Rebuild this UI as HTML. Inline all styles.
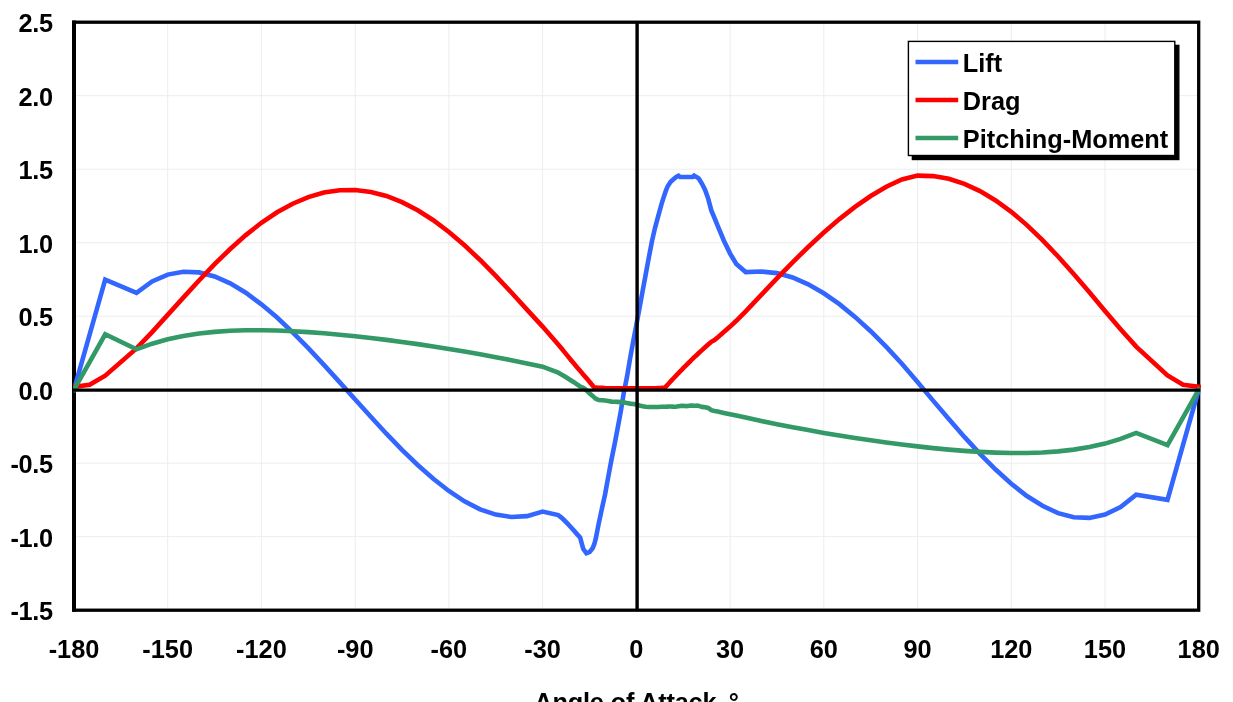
<!DOCTYPE html>
<html lang="en">
<head>
<meta charset="utf-8">
<title>Lift, Drag and Pitching-Moment vs Angle of Attack</title>
<style>
html,body{margin:0;padding:0;background:#fff;}
body{width:1233px;height:702px;overflow:hidden;}
svg{display:block;}
text{font-family:"Liberation Sans", Arial, Helvetica, sans-serif;font-weight:bold;font-size:25.33px;fill:#000;}
.grid line{stroke:#ededed;stroke-width:1;}
.curve{fill:none;stroke-width:4.6;stroke-linejoin:miter;stroke-miterlimit:3;stroke-linecap:square;}
</style>
</head>
<body>
<svg width="1233" height="702" viewBox="0 0 1233 702">
<rect x="0" y="0" width="1233" height="702" fill="#ffffff"/>

<g class="grid">
<line x1="167.7" y1="22.2" x2="167.7" y2="610.2"/>
<line x1="261.4" y1="22.2" x2="261.4" y2="610.2"/>
<line x1="355.2" y1="22.2" x2="355.2" y2="610.2"/>
<line x1="448.9" y1="22.2" x2="448.9" y2="610.2"/>
<line x1="542.6" y1="22.2" x2="542.6" y2="610.2"/>
<line x1="730.1" y1="22.2" x2="730.1" y2="610.2"/>
<line x1="823.8" y1="22.2" x2="823.8" y2="610.2"/>
<line x1="917.5" y1="22.2" x2="917.5" y2="610.2"/>
<line x1="1011.3" y1="22.2" x2="1011.3" y2="610.2"/>
<line x1="1105.0" y1="22.2" x2="1105.0" y2="610.2"/>
<line x1="74.0" y1="95.7" x2="1198.7" y2="95.7"/>
<line x1="74.0" y1="169.2" x2="1198.7" y2="169.2"/>
<line x1="74.0" y1="242.7" x2="1198.7" y2="242.7"/>
<line x1="74.0" y1="316.2" x2="1198.7" y2="316.2"/>
<line x1="74.0" y1="463.2" x2="1198.7" y2="463.2"/>
<line x1="74.0" y1="536.7" x2="1198.7" y2="536.7"/>
</g>
<rect x="74.0" y="22.2" width="1124.7" height="588.0" fill="none" stroke="#000" stroke-width="3.3"/>
<line x1="74" y1="20.55" x2="74" y2="611.85" stroke="#000" stroke-width="4"/>
<clipPath id="pc"><rect x="72.9" y="0" width="1128.1" height="702"/></clipPath>
<g clip-path="url(#pc)">
<polyline class="curve" stroke="#3366ff" points="74.0,389.7 89.6,334.7 105.2,279.6 136.5,292.8 152.1,281.5 167.7,274.6 183.3,271.7 199.0,272.4 214.6,276.4 230.2,283.3 245.8,292.7 261.4,304.3 277.1,317.5 292.7,332.4 308.3,348.2 323.9,364.9 339.6,382.1 355.2,399.5 370.8,416.7 386.4,433.7 402.0,449.8 417.7,465.0 433.3,478.8 448.9,491.0 464.5,501.3 480.1,509.4 495.8,514.6 511.4,517.0 527.0,516.1 542.6,511.6 558.2,515.1 561.4,517.6 564.5,520.5 567.6,523.6 570.7,527.0 573.9,530.5 577.0,534.1 580.1,537.4 583.2,548.8 586.4,553.3 589.5,552.1 592.6,548.2 594.2,544.5 595.7,538.9 598.9,522.6 602.0,508.3 605.1,494.2 608.2,477.2 611.4,460.0 614.5,444.8 617.6,428.5 620.7,411.9 623.9,392.2 627.0,376.8 630.1,358.4 633.2,341.5 636.4,324.7 639.5,308.0 642.6,291.2 645.7,274.5 648.8,257.7 652.0,241.1 655.1,227.6 658.2,216.1 661.3,204.9 662.9,199.6 664.5,194.8 666.0,190.4 667.6,186.5 669.2,183.9 670.7,181.7 672.3,180.2 673.8,178.9 675.4,177.6 677.0,176.4 678.5,175.7 680.1,177.0 681.7,177.0 683.2,177.0 684.8,177.0 686.3,177.0 687.9,177.0 689.5,177.0 691.0,177.0 692.6,177.0 694.1,175.7 695.7,176.7 697.3,177.4 698.8,178.6 702.0,183.8 705.1,189.9 708.2,198.6 711.3,210.4 714.5,218.0 717.6,225.6 723.8,240.5 730.1,253.6 736.3,264.0 745.7,272.1 761.3,271.5 776.9,273.1 792.6,277.5 808.2,284.3 823.8,293.3 839.4,304.1 855.0,316.9 870.7,331.2 886.3,346.9 901.9,363.8 917.5,381.9 933.1,400.6 948.8,419.0 964.4,436.9 980.0,453.8 995.6,469.5 1011.3,483.8 1026.9,496.0 1042.5,505.8 1058.1,513.2 1073.7,517.3 1089.4,517.9 1105.0,514.6 1120.6,507.0 1136.2,494.7 1167.5,499.8 1183.1,444.7 1198.7,389.7"/>
<polyline class="curve" stroke="#ff0000" points="74.0,386.8 89.6,384.7 105.2,375.7 136.5,348.4 152.1,332.1 167.7,314.9 183.3,297.6 199.0,280.5 214.6,264.2 230.2,249.0 245.8,235.1 261.4,222.8 277.1,212.3 292.7,203.7 308.3,197.1 323.9,192.6 339.6,190.2 355.2,190.0 370.8,191.9 386.4,195.9 402.0,202.1 417.7,210.2 433.3,220.2 448.9,232.0 464.5,245.3 480.1,260.0 495.8,275.9 511.4,292.5 527.0,309.6 542.6,326.6 558.2,344.6 561.4,348.3 564.5,352.1 567.6,355.9 570.7,359.7 573.9,363.5 577.0,367.2 580.1,370.8 583.2,374.5 586.4,378.1 589.5,381.8 592.6,385.5 594.2,387.4 595.7,387.5 598.9,387.7 602.0,387.9 605.1,388.1 608.2,388.2 611.4,388.3 614.5,388.3 617.6,388.3 620.7,388.3 623.9,388.3 627.0,388.3 630.1,388.3 633.2,388.3 636.4,388.3 639.5,388.3 642.6,388.3 645.7,388.3 648.8,388.3 652.0,388.3 655.1,388.3 658.2,388.0 661.3,387.9 662.9,387.8 664.5,387.9 666.0,386.5 667.6,384.7 669.2,383.0 670.7,381.3 672.3,379.6 673.8,378.0 675.4,376.3 677.0,374.7 678.5,373.0 680.1,371.4 681.7,369.8 683.2,368.2 684.8,366.6 686.3,365.1 687.9,363.5 689.5,362.0 691.0,360.4 692.6,358.9 694.1,357.4 695.7,355.9 697.3,354.5 698.8,353.0 702.0,350.1 705.1,347.3 708.2,344.5 711.3,341.8 714.5,340.1 717.6,337.5 723.8,332.1 730.1,326.6 736.3,320.8 745.7,311.4 761.3,294.9 776.9,278.4 792.6,262.3 808.2,247.0 823.8,232.5 839.4,219.1 855.0,206.9 870.7,196.0 886.3,186.7 901.9,179.4 917.5,175.6 933.1,176.1 948.8,178.8 964.4,183.8 980.0,191.1 995.6,200.5 1011.3,211.8 1026.9,225.1 1042.5,240.1 1058.1,256.5 1073.7,274.0 1089.4,292.3 1105.0,310.9 1120.6,329.2 1136.2,346.6 1167.5,375.4 1183.1,384.8 1198.7,386.8"/>
<polyline class="curve" stroke="#339966" points="74.0,389.7 89.6,362.1 105.2,334.3 136.5,349.3 152.1,343.7 167.7,339.3 183.3,336.0 199.0,333.5 214.6,331.9 230.2,330.8 245.8,330.3 261.4,330.2 277.1,330.5 292.7,331.2 308.3,332.1 323.9,333.3 339.6,334.7 355.2,336.3 370.8,338.0 386.4,339.9 402.0,342.0 417.7,344.1 433.3,346.5 448.9,349.0 464.5,351.6 480.1,354.3 495.8,357.2 511.4,360.2 527.0,363.4 542.6,366.7 558.2,372.7 561.4,374.4 564.5,376.2 567.6,378.2 570.7,380.2 573.9,382.2 577.0,384.3 580.1,386.5 583.2,387.8 586.4,390.1 589.5,393.4 592.6,395.9 594.2,397.4 595.7,398.7 598.9,400.1 602.0,400.3 605.1,400.5 608.2,401.0 611.4,401.6 614.5,401.8 617.6,401.9 620.7,402.1 623.9,402.5 627.0,403.1 630.1,403.6 633.2,404.0 636.4,404.6 639.5,405.5 642.6,406.3 645.7,406.7 648.8,407.0 652.0,407.0 655.1,407.0 658.2,407.0 661.3,406.8 662.9,406.8 664.5,406.8 666.0,406.7 667.6,406.6 669.2,406.5 670.7,406.5 672.3,406.6 673.8,406.7 675.4,406.8 677.0,406.6 678.5,406.3 680.1,406.0 681.7,405.9 683.2,405.9 684.8,406.0 686.3,406.1 687.9,406.0 689.5,405.8 691.0,405.6 692.6,405.6 694.1,405.7 695.7,405.7 697.3,405.5 698.8,405.9 702.0,406.9 705.1,407.2 708.2,407.9 711.3,410.2 714.5,410.9 717.6,411.5 723.8,412.9 730.1,414.2 736.3,415.6 745.7,417.6 761.3,421.0 776.9,424.2 792.6,427.2 808.2,430.1 823.8,432.9 839.4,435.5 855.0,438.0 870.7,440.3 886.3,442.5 901.9,444.5 917.5,446.4 933.1,448.1 948.8,449.6 964.4,450.9 980.0,451.9 995.6,452.6 1011.3,453.0 1026.9,453.0 1042.5,452.5 1058.1,451.4 1073.7,449.6 1089.4,447.1 1105.0,443.6 1120.6,438.9 1136.2,432.9 1167.5,445.1 1183.1,417.3 1198.7,389.7"/>
</g>
<line x1="72.0" y1="390.1" x2="1200.2" y2="390.1" stroke="#000" stroke-width="3.3"/>
<line x1="637.1" y1="22.2" x2="637.1" y2="610.2" stroke="#000" stroke-width="3.4"/>
<text x="52.6" y="32.0" text-anchor="end" letter-spacing="-0.4">2.5</text>
<text x="52.6" y="105.5" text-anchor="end" letter-spacing="-0.4">2.0</text>
<text x="52.6" y="179.0" text-anchor="end" letter-spacing="-0.4">1.5</text>
<text x="52.6" y="252.5" text-anchor="end" letter-spacing="-0.4">1.0</text>
<text x="52.6" y="326.0" text-anchor="end" letter-spacing="-0.4">0.5</text>
<text x="52.6" y="399.5" text-anchor="end" letter-spacing="-0.4">0.0</text>
<text x="52.6" y="473.0" text-anchor="end" letter-spacing="-0.4">-0.5</text>
<text x="52.6" y="546.5" text-anchor="end" letter-spacing="-0.4">-1.0</text>
<text x="52.6" y="620.0" text-anchor="end" letter-spacing="-0.4">-1.5</text>
<text x="74.0" y="658.0" text-anchor="middle">-180</text>
<text x="167.7" y="658.0" text-anchor="middle">-150</text>
<text x="261.4" y="658.0" text-anchor="middle">-120</text>
<text x="355.2" y="658.0" text-anchor="middle">-90</text>
<text x="448.9" y="658.0" text-anchor="middle">-60</text>
<text x="542.6" y="658.0" text-anchor="middle">-30</text>
<text x="636.4" y="658.0" text-anchor="middle">0</text>
<text x="730.1" y="658.0" text-anchor="middle">30</text>
<text x="823.8" y="658.0" text-anchor="middle">60</text>
<text x="917.5" y="658.0" text-anchor="middle">90</text>
<text x="1011.3" y="658.0" text-anchor="middle">120</text>
<text x="1105.0" y="658.0" text-anchor="middle">150</text>
<text x="1198.7" y="658.0" text-anchor="middle">180</text>
<text x="534.3" y="710.7" letter-spacing="-0.18">Angle of Attack, <tspan dx="-1.4">°</tspan></text>
<rect x="912.4" y="45.4" width="266.4" height="114.1" fill="#000" stroke="#000" stroke-width="1.4"/>
<rect x="908.4" y="41.4" width="266.4" height="114.1" fill="#fff" stroke="#000" stroke-width="1.4"/>
<line x1="915.5" y1="62" x2="958.2" y2="62" stroke="#3366ff" stroke-width="4.6"/>
<text x="962.8" y="71.8">Lift</text>
<line x1="915.5" y1="100" x2="958.2" y2="100" stroke="#ff0000" stroke-width="4.6"/>
<text x="962.8" y="109.8">Drag</text>
<line x1="915.5" y1="138" x2="958.2" y2="138" stroke="#339966" stroke-width="4.6"/>
<text x="962.8" y="147.8">Pitching-Moment</text>
</svg>
</body>
</html>
